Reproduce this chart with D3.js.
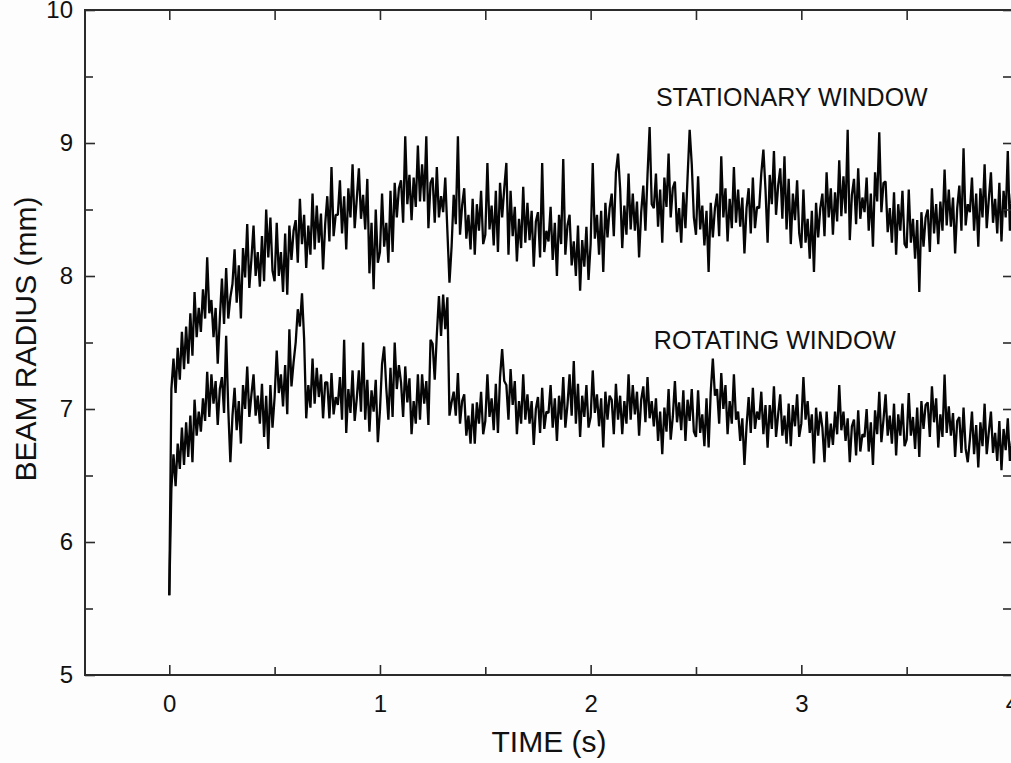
<!DOCTYPE html>
<html>
<head>
<meta charset="utf-8">
<script src="https://cdn.jsdelivr.net/npm/d3@7/dist/d3.min.js"></script>
<style>
  html, body { margin: 0; padding: 0; background: #fdfdfd; }
  svg { display: block; }
  text { font-family: "Liberation Sans", Arial, Helvetica, sans-serif; fill: #111; }
</style>
</head>
<body>
<svg id="chart" width="1011" height="763"></svg>
<script>
const timeStep = 0.01;
const stationaryWindow = [
5.60,7.15,7.38,7.12,7.46, 7.22,7.58,7.30,7.62,7.34,
7.72,7.40,7.88,7.54,7.76, 7.58,7.90,7.68,8.14,7.72,
7.82,7.54,7.76,7.34,7.68, 7.98,7.64,8.06,7.68,7.84,
7.94,8.20,7.80,8.08,7.68, 8.21,7.99,8.39,7.91,8.13,
8.38,8.00,8.18,7.92,8.30, 7.96,8.50,8.14,8.44,8.04,
7.96,8.40,8.00,8.18,7.88, 8.32,7.86,8.38,8.12,8.34,
8.42,8.10,8.58,8.24,8.46, 8.06,8.38,8.16,8.62,8.20,
8.53,8.25,8.47,8.05,8.39, 8.60,8.26,8.82,8.30,8.46,
8.46,8.72,8.32,8.60,8.20, 8.66,8.44,8.84,8.36,8.58,
8.81,8.43,8.61,8.35,8.73, 8.02,8.40,7.90,8.50,8.10,
8.18,8.62,8.22,8.40,8.10, 8.64,8.18,8.70,8.44,8.66,
8.72,8.40,9.05,8.54,8.76, 8.42,8.74,8.52,8.98,8.56,
8.84,8.56,9.05,8.36,8.70, 8.74,8.40,8.82,8.44,8.60,
8.48,8.74,8.34,7.95,8.22, 8.61,8.39,9.05,8.31,8.53,
8.66,8.28,8.46,8.20,8.58, 8.16,8.54,8.34,8.64,8.24,
8.31,8.85,8.35,8.53,8.23, 8.64,8.18,8.70,8.44,8.66,
8.85,8.16,8.64,8.30,8.52, 8.11,8.43,8.21,8.67,8.25,
8.55,8.27,8.49,8.07,8.41, 8.48,8.14,8.85,8.18,8.34,
8.26,8.52,8.12,8.40,8.00, 8.46,8.24,8.88,8.16,8.38,
8.46,8.08,8.26,8.00,8.38, 7.89,8.27,8.07,8.37,7.97,
8.24,8.85,8.28,8.46,8.16, 8.49,8.03,8.55,8.29,8.51,
8.62,8.30,8.78,8.92,8.66, 8.21,8.53,8.31,8.77,8.35,
8.62,8.34,8.56,8.14,8.48, 8.68,8.34,8.76,9.12,8.54,
8.51,8.77,8.37,8.65,8.25, 8.74,8.52,8.92,8.44,8.66,
8.71,8.33,8.51,8.25,8.63, 8.36,8.74,9.10,8.84,8.44,
8.31,8.75,8.35,8.53,8.23, 8.49,8.03,8.55,8.29,8.51,
8.62,8.30,8.90,8.44,8.66, 8.26,8.58,8.36,8.82,8.40,
8.65,8.37,8.59,8.17,8.51, 8.66,8.32,8.74,8.36,8.52,
8.51,8.77,8.95,8.65,8.25, 8.76,8.54,8.94,8.46,8.68,
8.81,8.43,8.90,8.35,8.73, 8.24,8.62,8.42,8.72,8.32,
8.21,8.65,8.25,8.43,8.13, 8.49,8.03,8.55,8.29,8.51,
8.62,8.30,8.78,8.44,8.66, 8.31,8.63,8.41,8.87,8.45,
8.75,8.47,9.10,8.27,8.61, 8.73,8.39,8.81,8.43,8.59,
8.48,8.74,8.34,8.62,8.22, 8.78,8.56,9.08,8.48,8.70,
8.71,8.33,8.51,8.25,8.63, 8.16,8.54,8.34,8.64,8.24,
8.21,8.65,8.25,8.43,8.13, 8.42,7.88,8.48,8.22,8.44,
8.50,8.18,8.66,8.32,8.54, 8.24,8.56,8.34,8.80,8.38,
8.65,8.37,8.59,8.17,8.51, 8.68,8.34,8.96,8.38,8.54,
8.48,8.74,8.34,8.62,8.22, 8.66,8.44,8.84,8.36,8.58,
8.78,8.40,8.58,8.32,8.70, 8.26,8.64,8.44,8.94,8.34,
8.62];
const rotatingWindow = [
5.60,6.40,6.66,6.42,6.74, 6.55,6.86,6.58,6.90,6.64,
6.95,6.60,7.07,6.80,6.98, 6.83,7.08,6.91,7.28,6.94,
7.26,7.04,7.21,6.88,7.15, 7.24,6.97,7.55,7.00,6.60,
6.95,7.16,6.84,7.06,6.74, 7.18,7.00,7.32,6.94,7.11,
7.26,6.95,7.10,6.89,7.19, 6.79,7.10,6.70,7.18,6.86,
7.09,7.44,7.12,7.26,7.02, 7.33,6.96,7.60,7.17,7.35,
7.50,7.75,7.62,7.87,7.53, 6.93,7.18,7.01,7.38,7.04,
7.31,7.09,7.26,6.93,7.20, 7.20,6.93,7.27,6.96,7.09,
7.03,7.24,6.92,7.52,6.82, 7.15,6.97,7.29,6.91,7.08,
7.29,6.98,7.50,6.92,7.22, 6.83,7.14,6.98,7.22,6.75,
6.99,7.34,7.47,7.16,6.92, 7.31,6.94,7.50,7.15,7.33,
7.20,6.94,7.32,7.05,7.23, 6.81,7.06,6.89,7.26,6.92,
7.26,7.04,7.21,6.88,7.52, 7.49,7.22,7.56,7.85,7.55,
7.86,7.60,7.84,6.95,7.05, 7.13,6.95,7.27,6.89,7.06,
7.11,6.80,6.95,6.74,7.04, 6.74,7.05,6.89,7.13,6.81,
6.91,7.26,6.94,7.08,6.84, 7.19,6.82,7.24,7.45,7.21,
7.18,6.92,7.30,7.03,7.21, 6.81,7.06,6.89,7.26,6.92,
7.11,6.89,7.06,6.73,7.00, 7.09,6.82,7.16,6.85,6.98,
6.97,7.18,6.86,7.08,6.76, 7.10,6.92,7.24,6.86,7.03,
7.26,6.95,7.36,6.89,7.19, 6.79,7.10,6.94,7.18,6.86,
6.94,7.29,6.97,7.11,6.87, 7.08,6.71,7.13,6.92,7.10,
7.07,6.81,7.19,6.92,7.10, 6.81,7.06,6.89,7.26,6.92,
7.18,6.96,7.13,6.80,7.07, 7.17,6.90,7.24,6.93,7.06,
6.87,7.08,6.76,6.98,6.66, 7.01,6.83,7.15,6.77,6.94,
7.21,6.90,7.05,6.84,7.14, 6.76,7.07,6.91,7.15,6.83,
6.79,7.14,6.82,6.96,6.72, 7.08,6.71,7.13,7.38,7.10,
7.15,6.89,7.27,7.00,7.18, 6.81,7.06,6.89,7.26,6.92,
6.98,6.76,6.93,6.58,6.87, 7.09,6.82,7.16,6.85,6.98,
6.92,7.13,6.81,7.03,6.71, 7.03,6.85,7.17,6.79,6.96,
7.11,6.80,6.95,6.74,7.04, 6.72,7.03,6.87,7.11,6.79,
6.89,7.24,6.92,7.06,6.82, 6.96,6.59,7.01,6.80,6.98,
6.86,6.60,6.98,6.71,6.89, 6.73,6.98,6.81,7.18,6.84,
6.98,6.76,6.93,6.60,6.87, 6.92,6.65,6.99,6.68,6.81,
6.79,7.00,6.68,6.90,6.58, 6.99,6.81,7.13,6.75,6.92,
7.11,6.80,6.95,6.74,7.04, 6.65,6.96,6.80,7.04,6.72,
6.77,7.12,6.80,6.94,6.70, 7.01,6.64,7.06,6.85,7.03,
7.05,6.79,7.17,6.90,7.08, 6.71,6.96,6.79,7.26,6.82,
7.02,6.80,6.97,6.64,6.91, 6.94,6.67,7.01,6.70,6.60,
6.77,6.98,6.66,6.88,6.56, 6.90,6.72,7.04,6.66,6.83,
6.98,6.67,6.82,6.61,6.91, 6.54,6.85,6.69,6.93,6.61,
6.76];
const xMajorTicks = [0, 1, 2, 3, 4];
const xMinorTicks = [0.5, 1.5, 2.5, 3.5];
const yMajorTicks = [5, 6, 7, 8, 9, 10];
const yMinorTicks = [5.5, 6.5, 7.5, 8.5, 9.5];
const seriesLabels = ["STATIONARY WINDOW", "ROTATING WINDOW"];
const labelAnchors = [[2.31, 9.28], [2.3, 7.45]];
const xTitle = "TIME (s)";
const yTitle = "BEAM RADIUS (mm)";

// ---- layout ----
const plotLeft = 85, plotRight = 1012, plotTop = 10, plotBottom = 675;
const svg = d3.select("#chart");
const x = d3.scaleLinear().domain([-0.4, 4]).range([plotLeft, plotRight]);
const y = d3.scaleLinear().domain([5, 10]).range([plotBottom, plotTop]);
const frameColor = "#2b2b2b";

// traces
const line = d3.line().x((d, i) => x(i * timeStep)).y(d => y(d));
svg.append("g").selectAll("path")
  .data([stationaryWindow, rotatingWindow])
  .join("path")
  .attr("d", line)
  .attr("fill", "none")
  .attr("stroke", "#050505")
  .attr("stroke-width", 2.3)
  .attr("stroke-linejoin", "bevel");

// axes with inward ticks
function styleAxis(g) {
  g.select(".domain").remove();
  g.selectAll(".tick line").attr("stroke", frameColor).attr("stroke-width", 1.6);
  g.selectAll(".tick text").style("font-size", "24px").attr("fill", "#111");
}
svg.append("g").attr("transform", `translate(0,${plotBottom})`)
  .call(d3.axisBottom(x).tickValues(xMajorTicks).tickFormat(d3.format("d")).tickSize(-10).tickPadding(20))
  .call(styleAxis);
svg.append("g").attr("transform", `translate(0,${plotBottom})`)
  .call(d3.axisBottom(x).tickValues(xMinorTicks).tickFormat("").tickSize(-8))
  .call(styleAxis);
svg.append("g").attr("transform", `translate(0,${plotTop})`)
  .call(d3.axisTop(x).tickValues(xMajorTicks.concat(xMinorTicks)).tickFormat("").tickSize(-10))
  .call(styleAxis);
svg.append("g").attr("transform", `translate(${plotLeft},0)`)
  .call(d3.axisLeft(y).tickValues(yMajorTicks).tickFormat(d3.format("d")).tickSize(-10).tickPadding(12))
  .call(styleAxis);
svg.append("g").attr("transform", `translate(${plotLeft},0)`)
  .call(d3.axisLeft(y).tickValues(yMinorTicks).tickFormat("").tickSize(-8))
  .call(styleAxis);
svg.append("g").attr("transform", `translate(${plotRight},0)`)
  .call(d3.axisRight(y).tickValues(yMajorTicks.concat(yMinorTicks)).tickFormat("").tickSize(-9))
  .call(styleAxis);

// frame
svg.append("rect")
  .attr("x", plotLeft).attr("y", plotTop)
  .attr("width", plotRight - plotLeft).attr("height", plotBottom - plotTop)
  .attr("fill", "none").attr("stroke", frameColor).attr("stroke-width", 2);

// series labels
svg.append("g").selectAll("text")
  .data(seriesLabels)
  .join("text")
  .attr("x", (d, i) => x(labelAnchors[i][0]))
  .attr("y", (d, i) => y(labelAnchors[i][1]))
  .style("font-size", "25px")
  .text(d => d);

// axis titles
svg.append("text")
  .attr("x", 549).attr("y", 752)
  .attr("text-anchor", "middle")
  .style("font-size", "30px")
  .text(xTitle);
svg.append("text")
  .attr("transform", "translate(36,339) rotate(-90)")
  .attr("text-anchor", "middle")
  .style("font-size", "30px")
  .text(yTitle);
</script>
</body>
</html>
